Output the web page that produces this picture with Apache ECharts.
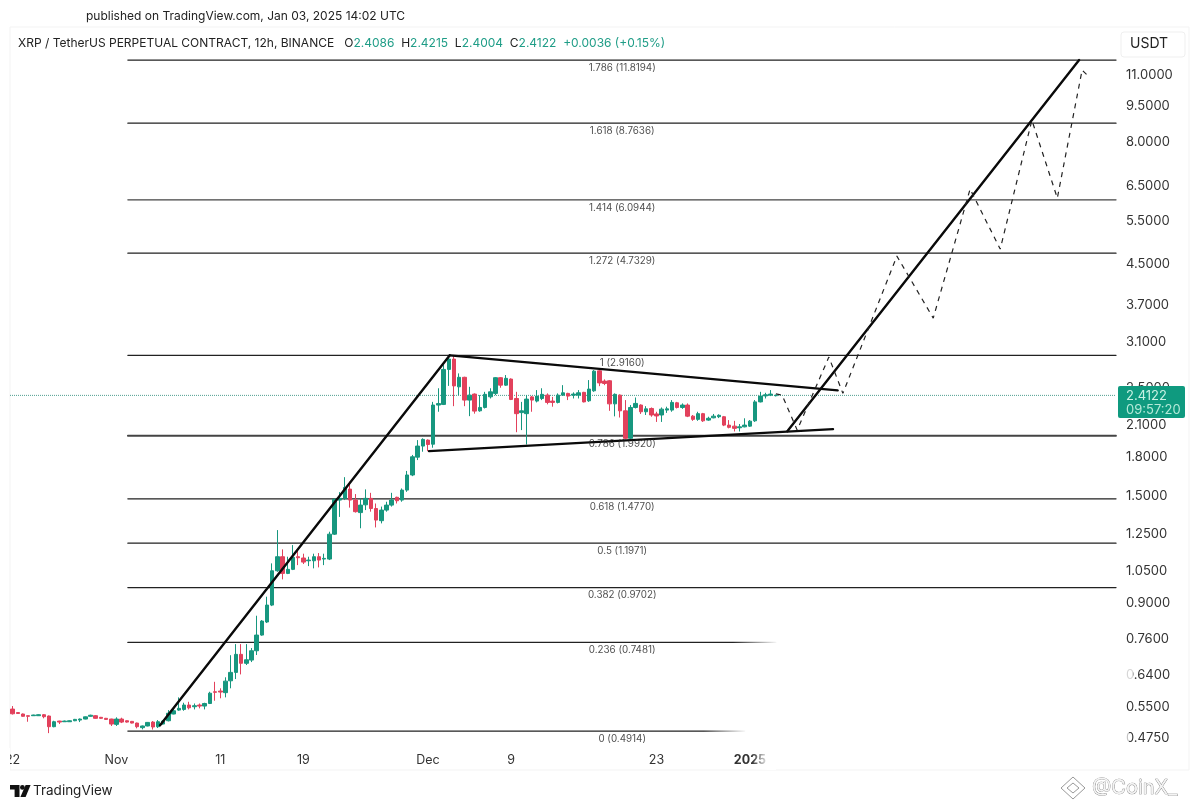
<!DOCTYPE html>
<html><head><meta charset="utf-8">
<style>html,body{margin:0;padding:0;background:#fff}#c{width:1200px;height:808px}</style>
<script src="https://cdn.jsdelivr.net/npm/echarts@6/dist/echarts.min.js"></script>
</head><body><div id="c"></div>
<script>
// 12h candles from 22 Oct 2024: [open, close, low, high]
const candles = [
[.5454,.5334,.5315,.5532],[.5365,.5340,.5328,.5378],[.5328,.5270,.5260,.5340],[.5285,.5270,.5136,.5290],
[.5285,.5302,.5280,.5310],[.5285,.5310,.5280,.5320],[.5310,.5260,.5220,.5328],[.5277,.5017,.4866,.5290],
[.5017,.5136,.5003,.5160],[.5153,.5128,.5080,.5160],[.5136,.5153,.5130,.5165],[.5136,.5160,.5130,.5170],
[.5160,.5194,.5150,.5205],[.5177,.5202,.5128,.5215],[.5202,.5257,.5195,.5265],[.5270,.5297,.5260,.5310],
[.5285,.5220,.5210,.5300],[.5245,.5220,.5210,.5255],[.5220,.5194,.5185,.5230],[.5202,.5080,.5034,.5210],
[.5073,.5202,.5034,.5245],[.5202,.5128,.5104,.5235],[.5160,.5128,.5115,.5170],[.5145,.5104,.5095,.5155],
[.5104,.5017,.4978,.5115],[.4994,.5034,.4954,.5045],[.5034,.5120,.5025,.5130],[.5128,.5010,.4950,.5153],
[.5017,.5136,.4985,.5177],[.5080,.5153,.5070,.5170],[.5160,.5348,.5145,.5428],[.5328,.5410,.5320,.5473],
[.5428,.5473,.5410,.5765],[.5445,.5559,.5410,.5620],[.5559,.5487,.5445,.5646],[.5515,.5541,.5445,.5600],
[.5559,.5532,.5473,.5600],[.5532,.5600,.5445,.5620],[.5600,.5880,.5585,.5920],[.5920,.5905,.5674,.6206],
[.5940,.5912,.5740,.6018],[.5895,.6226,.5765,.6340],[.6236,.6490,.6018,.7040],[.6490,.7069,.6288,.7420],
[.7069,.6775,.6428,.7420],[.6775,.6890,.6720,.7420],[.6880,.7190,.6815,.7283],[.7190,.7745,.7047,.8489],
[.7745,.8276,.7720,.8316],[.8240,.8928,.8200,.9290],[.8928,1.0505,.8885,1.0880],[1.0505,1.1228,1.0455,1.2739],
[1.1228,1.0375,1.0085,1.1625],[1.0375,1.0575,1.0340,1.1228],[1.0575,1.1195,1.0539,1.1865],[1.1228,1.1175,1.0790,1.1625],
[1.1160,1.0945,1.0845,1.1390],[1.1015,1.1051,1.0740,1.1228],[1.1015,1.1228,1.0625,1.1390],[1.1228,1.1051,1.0675,1.1425],
[1.1105,1.1140,1.0790,1.1390],[1.1105,1.2495,1.1051,1.2640],[1.2495,1.4735,1.2445,1.4805],[1.4686,1.4805,1.3560,1.5250],
[1.4805,1.5590,1.4686,1.6370],[1.5470,1.4686,1.4170,1.6020],[1.4686,1.3900,1.3840,1.5110],[1.3840,1.4340,1.2850,1.4805],
[1.4360,1.4805,1.4006,1.5450],[1.4805,1.4110,1.3900,1.5200],[1.4110,1.3358,1.2900,1.4450],[1.3320,1.4006,1.3150,1.4240],
[1.4006,1.4340,1.3900,1.4570],[1.4340,1.4686,1.4240,1.5200],[1.4880,1.4640,1.4450,1.4925],[1.4686,1.5398,1.4570,1.5520],
[1.5398,1.6540,1.5270,1.6860],[1.6540,1.8030,1.6450,1.8190],[1.8000,1.8970,1.7752,1.9515],[1.8970,1.9580,1.8470,1.9680],
[1.9515,1.9110,1.8520,1.9580],[1.9140,2.3040,1.8820,2.3390],[2.3040,2.3200,2.2320,2.4950],[2.3110,2.7280,2.3040,2.7850],
[2.7280,2.8650,2.5230,2.9160],[2.8650,2.5230,2.2920,2.9050],[2.5120,2.6280,2.4150,2.6770],[2.6280,2.3589,2.2920,2.6350],
[2.3589,2.4150,2.1860,2.5120],[2.4270,2.2390,2.2120,2.4350],[2.2420,2.2780,2.2320,2.4150],[2.2780,2.4240,2.2670,2.4530],
[2.3960,2.4530,2.3770,2.4950],[2.4350,2.6230,2.4150,2.6300],[2.6230,2.5320,2.5010,2.6290],[2.5320,2.6150,2.5230,2.6560],
[2.6060,2.3660,2.3589,2.6150],[2.3770,2.2120,2.0260,2.4530],[2.2230,2.2420,2.0462,2.3390],[2.2120,2.3700,1.9110,2.4150],
[2.3950,2.3589,2.2320,2.4060],[2.3480,2.4040,2.3330,2.4734],[2.3770,2.4240,2.3589,2.4950],[2.4150,2.3330,2.3120,2.4350],
[2.3480,2.3330,2.2860,2.3950],[2.3330,2.4150,2.3220,2.4350],[2.4150,2.4420,2.4060,2.5320],[2.4350,2.4040,2.3589,2.4420],
[2.4150,2.4270,2.3770,2.4470],[2.4150,2.4420,2.3770,2.4734],[2.4470,2.3390,2.3330,2.4530],[2.3510,2.4850,2.3390,2.5935],
[2.4650,2.7060,2.4530,2.7194],[2.7100,2.5590,2.5200,2.7194],[2.5810,2.5520,2.5320,2.6020],[2.5850,2.3170,2.2420,2.5935],
[2.3170,2.4240,2.1840,2.4350],[2.4150,2.2420,2.1720,2.4240],[2.2420,1.9680,1.9580,2.3589],[1.9680,2.2780,1.9580,2.3040],
[2.2780,2.3220,2.2670,2.3880],[2.3040,2.2320,2.2090,2.3120],[2.2320,2.2630,2.1980,2.2920],[2.2670,2.1980,2.1800,2.2780],
[2.2090,2.1880,2.1270,2.2320],[2.1980,2.2600,2.1270,2.2780],[2.2497,2.2630,2.2200,2.2860],[2.2497,2.3330,2.2320,2.3589],
[2.3290,2.2780,2.2670,2.3390],[2.2780,2.3040,2.2630,2.3220],[2.3040,2.1860,2.1760,2.3220],[2.1860,2.1530,2.1380,2.1980],
[2.1530,2.2120,2.1380,2.2320],[2.2120,2.1380,2.1270,2.2200],[2.1455,2.1640,2.1380,2.1800],[2.1690,2.1860,2.1640,2.2090],
[2.1800,2.1950,2.1660,2.2050],[2.1800,2.0950,2.0850,2.1880],[2.0950,2.0730,2.0630,2.1455],[2.0850,2.0630,2.0330,2.1380],
[2.0690,2.0780,2.0330,2.1060],[2.0780,2.0950,2.0730,2.1640],[2.0850,2.1350,2.0780,2.1455],[2.1380,2.3390,2.1270,2.3589],
[2.3390,2.4040,2.3330,2.4530],[2.4060,2.4190,2.3770,2.4420],[2.4150,2.4270,2.4040,2.4734],[2.4086,2.4122,2.4004,2.4215]
];
const lastPrice = 2.4122;
const fibRatios = ['0','0.236','0.382','0.5','0.618','0.786','1','1.272','1.414','1.618','1.786'];
const fibPrices = [0.4914,0.7481,0.9702,1.1971,1.4770,1.9920,2.9160,4.7329,6.0944,8.7636,11.8194];
const fibEndBars = [141,147,212.5,212.5,212.5,212.5,212.5,212.5,212.5,212.5,212.5];
const fibStartBar = 22.2, fibLabelBar = 117.4;
const priceTicks = [0.475,0.55,0.64,0.76,0.9,1.05,1.25,1.5,1.8,2.1,2.5,3.1,3.7,4.5,5.5,6.5,8,9.5,11];
const timeTickBars = [0,20,40,56,80,96,124,142];
const timeTickLabels = ['22','Nov','11','19','Dec','9','23','2025'];
// drawings: [bar number, price]
const riseLine = [[28.4,0.505],[84.2,2.916]];
const upperLine = [[84.2,2.916],[158.9,2.47]];
const lowerLine = [[80.2,1.852],[158,2.056]];
const breakoutLine = [[149.2,2.036],[205.4,11.8194]];
const projection = [[147,2.43],[148.2,2.415],[151.1,2.046],[157.2,2.892],[159.9,2.435],[170.3,4.668],[177.3,3.479],[184.4,6.413],[190.2,4.825],[196.3,8.89],[201.2,6.144],[205.97,11.27],[207,11.0]];

const GREEN='#17977f', RED='#e2415c', F='Inter, "Liberation Sans", sans-serif';
const chart = echarts.init(document.getElementById('c'),null,{renderer:'canvas'});
const solid=(d,w,c)=>({type:'line',data:d,symbol:'none',silent:true,animation:false,z:5,lineStyle:{width:w,color:c,cap:'round'}});
const fibSeries = fibPrices.map((p,i)=>{
  const fade = fibEndBars[i]<200;
  const color = fade ? new echarts.graphic.LinearGradient(0,0,1,0,[{offset:0,color:'#222'},{offset:.93,color:'#222'},{offset:1,color:'rgba(34,34,34,0)'}]) : (fibRatios[i]==='0.786'||fibRatios[i]==='1.414'?'#444':'#222');
  const s = solid([[fibStartBar,p],[fibEndBars[i],p]], fibRatios[i]==='0.786'?1.8:1.3, color);
  s.z=2; return s;
});
chart.setOption({
  animation:false,
  backgroundColor:'#fff',
  title:[
    {text:'published on TradingView.com, Jan 03, 2025 14:02 UTC',left:81,top:5,textStyle:{fontFamily:F,fontSize:12,fontWeight:'normal',color:'#222'}},
    {text:'{k|XRP / TetherUS PERPETUAL CONTRACT, 12h, BINANCE   O}{v|2.4086}{k|  H}{v|2.4215}{k|  L}{v|2.4004}{k|  C}{v|2.4122}{v|  +0.0036 (+0.15%)}',left:13,top:32,
     textStyle:{fontWeight:'normal',rich:{k:{fontFamily:F,fontSize:12,fontWeight:'normal',color:'#222'},v:{fontFamily:F,fontSize:12,fontWeight:'normal',color:'#1f9d87'}}}}
  ],
  grid:{left:10,right:84,top:30,bottom:63},
  xAxis:{type:'value',min:-0.5,max:212.5,splitLine:{show:false},axisLine:{show:false},axisTick:{show:false},
    axisLabel:{customValues:timeTickBars,margin:9,color:'#333',fontFamily:F,fontSize:12.5,hideOverlap:false,showMinLabel:true,
      formatter:v=>{const t=timeTickLabels[timeTickBars.indexOf(v)];return t==='2025'?'{b|'+t+'}':t;},
      rich:{b:{fontWeight:'bold',fontFamily:F,fontSize:12.5,color:'#333'}}}},
  yAxis:{type:'log',logBase:10,position:'right',min:0.46,max:13.63,splitLine:{show:false},axisLine:{show:false},axisTick:{show:false},
    axisLabel:{customValues:priceTicks,margin:10,color:'#333',fontFamily:F,fontSize:13,formatter:v=>Number(v).toFixed(4)}},
  series:[
    ...fibSeries,
    {type:'scatter',symbolSize:0,silent:true,z:6,data:fibPrices.map((p,i)=>({value:[fibLabelBar,p],label:{formatter:fibRatios[i]+' ('+p.toFixed(4)+')'}})),
     label:{show:true,position:'inside',offset:[0,8],fontFamily:F,fontSize:9.8,color:'#222'}},
    {type:'line',data:[[-0.5,lastPrice],[212.5,lastPrice]],symbol:'none',silent:true,z:3,lineStyle:{width:1,type:'dotted',color:'#4f9f90'}},
    {type:'candlestick',z:4,barWidth:4,silent:true,data:candles.map((c,i)=>[i,c[0],c[1],c[2],c[3]]),
     itemStyle:{color:GREEN,color0:RED,borderColor:GREEN,borderColor0:RED,borderWidth:1}},
    solid(riseLine,2.4,'#0a0a0a'),solid(upperLine,2.4,'#0a0a0a'),solid(lowerLine,2.4,'#0a0a0a'),solid(breakoutLine,2.4,'#0a0a0a'),
    {type:'line',data:projection,symbol:'none',silent:true,z:5,lineStyle:{width:1.2,type:[5,5],color:'#222'}}
  ],
  graphic:[
    {type:'rect',z:0,silent:true,shape:{x:10,y:27,width:1179,height:743},style:{fill:'none',stroke:'#f3f3f3',lineWidth:1}},
    {type:'rect',z:9,silent:true,shape:{x:1121,y:32,width:64,height:25,r:3},style:{fill:'#fff',stroke:'#efefef',lineWidth:1}},
    {type:'text',z:10,silent:true,style:{x:1130,y:44,text:'USDT',verticalAlign:'middle',font:'14px '+F,fill:'#222'}},
    {type:'rect',z:20,silent:true,shape:{x:0,y:748,width:10,height:22},style:{fill:'#fff'}},
    {type:'rect',z:20,silent:true,shape:{x:752,y:748,width:24,height:22},style:{fill:new echarts.graphic.LinearGradient(0,0,1,0,[{offset:0,color:'rgba(255,255,255,0)'},{offset:.7,color:'#fff'},{offset:1,color:'#fff'}])}},
    {type:'rect',z:20,silent:true,shape:{x:1120,y:666,width:13,height:17},style:{fill:'rgba(255,255,255,.8)'}},
    {type:'rect',z:20,silent:true,shape:{x:1120,y:730,width:9,height:15},style:{fill:'rgba(255,255,255,.7)'}},
    {type:'rect',z:30,silent:true,shape:{x:1118,y:386,width:67,height:32,r:2},style:{fill:'#0f9a7f'}},
    {type:'text',z:31,silent:true,style:{x:1126,y:396,text:'2.4122',verticalAlign:'middle',font:'13px '+F,fill:'#c9f2e4'}},
    {type:'text',z:31,silent:true,style:{x:1126,y:410,text:'09:57:20',verticalAlign:'middle',font:'13px '+F,fill:'#b5ead9'}},
    {type:'polygon',z:10,silent:true,shape:{points:[[10,785],[19.5,785],[19.5,797],[14.6,797],[14.6,789.6],[10,789.6]]},style:{fill:'#111'}},
    {type:'circle',z:10,silent:true,shape:{cx:22.4,cy:787.4,r:2.4},style:{fill:'#111'}},
    {type:'polygon',z:10,silent:true,shape:{points:[[25.6,785],[30.6,785],[25.6,797],[20.4,797]]},style:{fill:'#111'}},
    {type:'text',z:10,silent:true,style:{x:33,y:791,text:'TradingView',verticalAlign:'middle',font:'13.5px '+F,fill:'#222'}},
    {type:'polygon',z:10,silent:true,shape:{points:[[1073,777],[1085,788],[1073,799],[1061,788]]},style:{fill:'none',stroke:'#999',lineWidth:1}},
    {type:'polygon',z:10,silent:true,shape:{points:[[1073,783],[1079,788],[1073,793],[1067,788]]},style:{fill:'none',stroke:'#999',lineWidth:1}},
    {type:'text',z:10,silent:true,style:{x:1092,y:788,text:'@CoinX_',verticalAlign:'middle',font:'20px '+F,fill:'#f4f4f4',stroke:'#777',lineWidth:.7}}
  ]
});
</script></body></html>
